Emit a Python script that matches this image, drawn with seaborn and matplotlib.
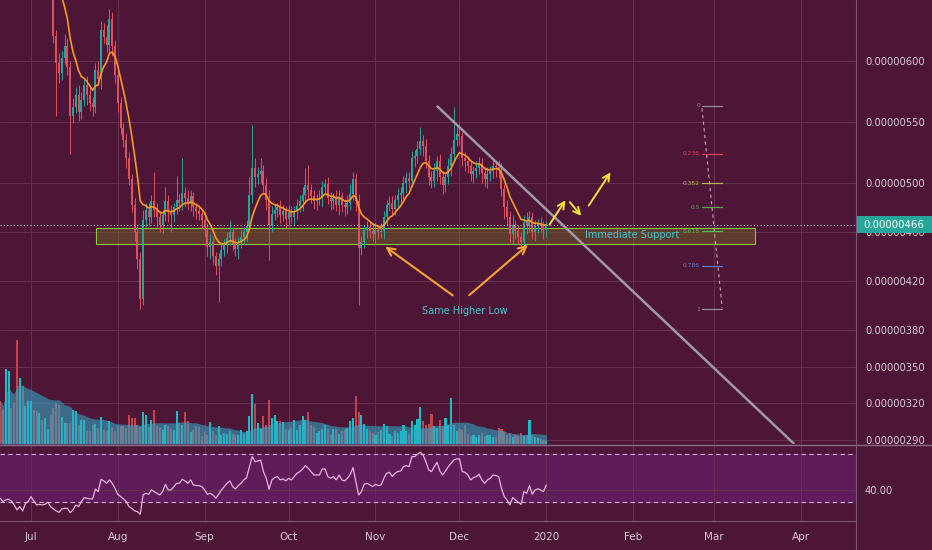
import numpy as np
import pandas as pd
import matplotlib
matplotlib.use('Agg')
import matplotlib.pyplot as plt
import matplotlib.dates as mdates
import matplotlib.transforms as mtransforms
from matplotlib.patches import Rectangle
import seaborn as sns

# ---- data (prices in units of 1e-8) ----
start_date = '2019-06-20'
first_open = 800

closes = [
    790, 778, 784, 789, 776, 760, 735, 745, 722, 732, 740, 752, 738, 722,
    728, 720, 726, 732, 690, 620, 598, 590, 602, 612, 595, 555, 562, 572,
    558, 568, 580, 572, 565, 562, 592, 585, 625, 619, 613, 634, 612, 588,
    565, 545, 535, 520, 503, 482, 460, 438, 405, 470, 478, 472, 485, 478,
    472, 466, 474, 485, 476, 474, 480, 486, 484, 492, 488, 483, 489, 480,
    477, 475, 470, 462, 448, 452, 440, 432, 438, 445, 450, 455, 460, 450,
    446, 452, 456, 460, 465, 490, 512, 505, 507, 510, 498, 486, 466, 475,
    478, 480, 474, 477, 471, 476, 472, 477, 481, 485, 490, 498, 494, 489,
    485, 487, 488, 497, 499, 488, 485, 488, 482, 489, 482, 480, 484, 491,
    503, 485, 447, 452, 462, 464, 461, 458, 462, 460, 461, 472, 482, 484,
    479, 486, 490, 492, 500, 504, 502, 520, 522, 528, 534, 530, 518, 505,
    502, 510, 518, 505, 498, 505, 514, 524, 535, 540, 538, 520, 518, 514,
    507, 510, 512, 516, 508, 503, 507, 510, 514, 513, 511, 495, 480, 472,
    458, 466, 461, 456, 452, 468, 465, 472, 460, 465, 467, 465, 462, 466,
]

wick_up = [
    8, 6, 5, 7, 6, 8, 10, 9, 6, 7, 5, 6, 8, 5,
    6, 7, 5, 8, 12, 25, 5, 8, 6, 10, 6, 5, 7, 6,
    8, 6, 5, 7, 6, 5, 6, 8, 7, 6, 10, 8, 6, 5,
    6, 5, 4, 6, 5, 4, 6, 5, 6, 8, 6, 6, 5, 24,
    6, 5, 4, 12, 5, 6, 4, 20, 5, 28, 5, 6, 5, 4,
    4, 5, 4, 6, 5, 6, 5, 4, 5, 6, 4, 5, 10, 4,
    5, 4, 6, 4, 5, 15, 35, 8, 6, 10, 5, 6, 8, 6,
    5, 4, 6, 5, 4, 6, 5, 4, 6, 5, 7, 14, 17, 5,
    5, 4, 6, 5, 4, 6, 5, 4, 6, 5, 4, 5, 6, 8,
    6, 5, 6, 5, 4, 5, 4, 6, 5, 4, 6, 5, 4, 5,
    5, 4, 6, 5, 6, 5, 5, 6, 5, 6, 12, 5, 6, 5,
    5, 6, 4, 6, 5, 4, 6, 5, 27, 6, 8, 4, 5, 4,
    5, 4, 6, 5, 4, 5, 6, 4, 5, 4, 6, 5, 4, 6,
    5, 8, 4, 5, 4, 6, 8, 5, 4, 5, 4, 5, 4, 3,
]

wick_dn = [
    6, 8, 5, 6, 7, 5, 8, 6, 7, 5, 6, 8, 5, 6,
    5, 6, 7, 5, 8, 6, 43, 8, 6, 5, 7, 31, 6, 5,
    7, 6, 5, 8, 6, 7, 5, 6, 8, 5, 6, 7, 8, 6,
    7, 5, 6, 8, 5, 6, 7, 8, 8, 5, 6, 7, 5, 6,
    8, 6, 7, 5, 8, 14, 6, 5, 7, 6, 8, 5, 6, 7,
    6, 5, 7, 6, 8, 10, 6, 7, 29, 6, 5, 7, 6, 5,
    6, 8, 5, 6, 7, 5, 6, 8, 6, 7, 5, 8, 29, 6,
    5, 6, 7, 5, 8, 6, 5, 7, 6, 5, 8, 6, 7, 5,
    6, 7, 5, 8, 6, 5, 7, 6, 5, 8, 6, 7, 5, 6,
    5, 8, 47, 6, 5, 7, 6, 5, 8, 6, 5, 7, 6, 5,
    6, 5, 7, 6, 5, 8, 6, 5, 7, 6, 5, 8, 6, 7,
    6, 5, 8, 6, 7, 5, 6, 8, 6, 5, 7, 6, 8, 6,
    5, 7, 6, 5, 8, 6, 7, 5, 6, 8, 7, 6, 9, 7,
    6, 8, 7, 6, 8, 6, 7, 5, 6, 7, 6, 5, 8, 6,
]

volume = [
    43, 34, 75, 73, 36, 41, 104, 66, 58, 38, 43, 43, 34, 33,
    31, 24, 26, 15, 29, 36, 41, 39, 27, 21, 21, 21, 34, 33,
    19, 24, 24, 13, 13, 19, 20, 16, 27, 14, 13, 23, 17, 13,
    18, 18, 18, 16, 29, 26, 26, 19, 17, 32, 29, 17, 24, 34,
    18, 17, 14, 19, 18, 15, 14, 33, 21, 19, 32, 23, 12, 14,
    18, 17, 8, 12, 9, 22, 13, 9, 18, 9, 11, 10, 13, 10,
    9, 9, 14, 10, 13, 28, 50, 40, 21, 15, 28, 19, 44, 26,
    29, 23, 23, 22, 15, 14, 17, 24, 14, 19, 28, 24, 32, 19,
    17, 11, 13, 15, 19, 15, 9, 15, 15, 10, 13, 15, 16, 23,
    26, 48, 32, 29, 20, 15, 13, 11, 9, 12, 14, 20, 18, 10,
    8, 13, 11, 13, 19, 13, 10, 23, 19, 25, 37, 23, 19, 20,
    30, 18, 16, 24, 18, 26, 19, 46, 19, 13, 15, 14, 19, 10,
    8, 9, 7, 9, 11, 8, 9, 9, 7, 7, 16, 15, 12, 9,
    11, 7, 9, 8, 11, 8, 9, 24, 9, 7, 6, 5, 4, 3,
]

rsi_vals = [
    33.3, 30.6, 32, 32.5, 31, 27.8, 23.7, 26.4, 22.8, 29, 30.6, 34.7, 31, 27.8,
    28.3, 27.8, 28.3, 30, 26.4, 24.5, 22.8, 21.7, 24.5, 25, 25, 21.4, 23.7, 27.8,
    26.4, 30.6, 33.9, 33.3, 32.8, 32.8, 41, 38.8, 49, 47.7, 45.7, 48.5, 45.7, 41.6,
    36.6, 34.7, 32.8, 30.6, 26.4, 25, 22.8, 22.3, 20, 36, 37.5, 36.6, 40.2, 38.8,
    37.5, 36, 38.8, 44.9, 40.2, 40.2, 43, 45.7, 45.7, 49, 47.7, 45.7, 48.5, 44.4,
    43.8, 43.8, 43, 40.2, 36.6, 37.5, 36, 33.3, 36.6, 40.2, 43, 45.7, 47.7, 43,
    41, 43.8, 45.7, 48.5, 50.4, 59.5, 67.8, 63.7, 64.2, 65, 55.4, 49.9, 40.8, 48.5,
    50.4, 51.3, 48.5, 49.3, 47.7, 49.9, 48.5, 51.3, 54, 55.4, 57.6, 60.4, 58.2, 55.4,
    52.6, 52.6, 52.6, 57.6, 57.6, 51.3, 49.9, 51.3, 48.5, 52.6, 48.5, 47.7, 49.9, 53.2,
    58.7, 47.1, 36, 38.8, 44.9, 45.7, 44.4, 43, 44.9, 43.8, 44.4, 49.9, 54, 54.8,
    51.3, 54, 55.4, 55.9, 59.5, 60.4, 59.5, 67.8, 67.8, 69.7, 71.4, 69.2, 63.7, 56.8,
    55.4, 59.5, 63.1, 55.9, 52.6, 55.9, 59.5, 62.3, 65, 65.9, 65.9, 55.4, 54.8, 52.6,
    48.5, 50.4, 51.3, 53.2, 48.5, 45.7, 48.5, 49.9, 52.6, 52.1, 51.3, 41.6, 34.7, 31.9,
    27.8, 33.9, 31.9, 30, 28.3, 38.8, 37.5, 43.8, 36.6, 40.2, 41.1, 40.2, 38.8, 44.4,
]

price_ticks = [290, 320, 350, 380, 420, 460, 500, 550, 600]
last_price = 466
month_labels = ['Jul', 'Aug', 'Sep', 'Oct', 'Nov', 'Dec', '2020', 'Feb', 'Mar', 'Apr']
fib_levels = [0, 0.236, 0.382, 0.5, 0.618, 0.786, 1]
fib_labels = ['0', '0.236', '0.382', '0.5', '0.618', '0.786', '1']
fib_high, fib_low = 563, 397
support_low, support_high = 450.2, 463.3

# ---- colours ----
bg = '#4d1536'
grid_c = '#63304f'
up_c = '#26a69a'
dn_c = '#e0505c'
vol_up = '#1fbcc4'
vol_dn = '#c4434d'
txt_c = '#d6cad4'
cyan_txt = '#3fcbd2'
fib_colors = ['#9e8aa0', '#e0405a', '#b8b347', '#5fa64a', '#4ec04e', '#5a7fd0', '#9e8aa0']

sns.set_theme(style='dark', rc={'axes.facecolor': bg, 'figure.facecolor': bg,
                                'text.color': txt_c, 'xtick.color': txt_c,
                                'ytick.color': txt_c})
plt.rcParams['font.family'] = ['DejaVu Sans']

closes = np.array(closes, dtype=float)
opens = np.r_[first_open, closes[:-1]]
highs = np.maximum(opens, closes) + np.array(wick_up)
lows = np.minimum(opens, closes) - np.array(wick_dn)
is_up = closes >= opens

dates = pd.date_range(start_date, periods=len(closes), freq='D')
xd = mdates.date2num(dates)
x0 = mdates.date2num(pd.Timestamp(start_date))


def day(d):
    return x0 + d


ma = pd.Series(closes).ewm(span=9, adjust=False).mean().values
vma = pd.Series(volume, dtype=float).rolling(20, min_periods=1).mean().values

fig = plt.figure(figsize=(9.32, 5.5), dpi=100)
W, H = 932.0, 550.0
ax = fig.add_axes([0, 106 / H, 856 / W, 444 / H])
vax = fig.add_axes([0, 106 / H, 856 / W, 444 / H], sharex=ax)
rax = fig.add_axes([0, 29 / H, 856 / W, 75 / H], sharex=ax)

month_starts = pd.date_range('2019-07-01', periods=len(month_labels), freq='MS')

# ---- main price pane ----
ax.set_axisbelow(True)
ax.grid(True, color=grid_c, lw=0.8)
ax.add_patch(Rectangle((day(34.2), support_low), 235.4, support_high - support_low,
                       facecolor='#6e5a28', alpha=0.55, edgecolor='none', zorder=1))
ax.add_patch(Rectangle((day(34.2), support_low), 235.4, support_high - support_low,
                       facecolor='none', edgecolor='#8cc63f', lw=0.8, zorder=1.1))

cols = np.where(is_up, up_c, dn_c)
ax.vlines(xd, lows, highs, colors=cols, lw=0.7, zorder=2)
ax.bar(xd, np.maximum(np.abs(closes - opens), 0.8), bottom=np.minimum(opens, closes),
       width=0.7, color=cols, zorder=2.1, linewidth=0)
sns.lineplot(x=dates, y=ma, ax=ax, color='#f59a23', linewidth=1.2, zorder=3)

ax.axhline(last_price, color='#a8c0c6', ls=(0, (1, 2)), lw=0.8, zorder=3)

# trend line
ax.plot([day(155.9), day(283.5)], [563, 287], color='#9e9aa6', lw=1.8,
        solid_capstyle='butt', zorder=4)

# fib retracement
for lvl, lab, c in zip(fib_levels, fib_labels, fib_colors):
    p = fib_high - lvl * (fib_high - fib_low)
    ax.plot([day(250.6), day(257.8)], [p, p], color=c, lw=0.9, zorder=4)
    ax.text(day(249.9), p, lab, color=c, fontsize=4.3, ha='right', va='center', zorder=4)
ax.plot([day(250.6), day(257.8)], [561, 398], color='#c9a0bd', lw=0.8,
        ls=(0, (3, 3)), zorder=4)

# annotations
orange = '#f7a233'
for tail, head in [((162.4, 406.9), (136.7, 449.4)), ((166.7, 406.9), (189.2, 451.0))]:
    ax.annotate('', xy=(day(head[0]), head[1]), xytext=(day(tail[0]), tail[1]),
                arrowprops=dict(arrowstyle='->', color=orange, lw=1.5,
                                mutation_scale=14), zorder=5)
yellow = '#f4e23a'
for tail, head in [((195.6, 464.1), (202.4, 487.8)), ((202.8, 486.1), (208.1, 471.4)),
                   ((209.6, 479.6), (218.5, 510.6))]:
    ax.annotate('', xy=(day(head[0]), head[1]), xytext=(day(tail[0]), tail[1]),
                arrowprops=dict(arrowstyle='->', color=yellow, lw=1.4,
                                mutation_scale=12), zorder=5)
ax.text(day(166.0), 395.7, 'Same Higher Low', color=cyan_txt, fontsize=7,
        ha='center', va='center', zorder=5)
ax.text(day(225.6), 457.6, 'Immediate Support', color=cyan_txt, fontsize=7,
        ha='center', va='center', zorder=5)

ax.set_ylim(286.9, 649.4)
ax.set_yticks(price_ticks)
ax.set_yticklabels([f'{v * 1e-8:.8f}' for v in price_ticks])
ax.yaxis.tick_right()
ax.tick_params(axis='y', length=0, pad=6.5, labelsize=7.2, colors=txt_c)
ax.set_xticks(month_starts)
ax.tick_params(axis='x', length=0, labelbottom=False)
ax.set_xlabel('')
ax.set_ylabel('')
for s in ax.spines.values():
    s.set_visible(False)

# ---- volume overlay ----
vax.patch.set_alpha(0)
vax.bar(xd, volume, width=0.75, color=np.where(is_up, vol_up, vol_dn), linewidth=0, zorder=1)
vax.fill_between(xd, 0, vma, color='#31a9c5', alpha=0.58, linewidth=0, zorder=2)
vax.set_ylim(0, 444)
vax.axis('off')

# ---- RSI pane ----
rax.set_facecolor('#4e1539')
rax.set_axisbelow(True)
rax.axhspan(30, 70, color='#5f1b5a', zorder=0)
rax.grid(True, color=grid_c, lw=0.8)
rax.axhline(70, color='#d9a9cf', lw=0.8, ls=(0, (4, 3)), zorder=1)
rax.axhline(30, color='#d9a9cf', lw=0.8, ls=(0, (4, 3)), zorder=1)
sns.lineplot(x=dates, y=rsi_vals, ax=rax, color='#e8b4dc', linewidth=0.9, zorder=3)
rax.set_ylim(14.5, 76.6)
rax.set_yticks([40])
rax.set_yticklabels(['40.00'])
rax.yaxis.tick_right()
rax.tick_params(axis='y', length=0, pad=6.5, labelsize=7.2, colors=txt_c)
rax.set_xticks(month_starts)
rax.set_xticklabels(month_labels)
rax.tick_params(axis='x', length=0, pad=8, labelsize=7.5, colors=txt_c)
rax.set_xlabel('')
rax.set_ylabel('')
for s in rax.spines.values():
    s.set_visible(False)

ax.set_xlim(day(-0.07), day(305.6))

# ---- separators and last price tag ----
sep_c = '#7a5a74'
fig.add_artist(plt.Line2D([0, 1], [105 / H, 105 / H], color='#8a6a84', lw=1.0))
fig.add_artist(plt.Line2D([0, 856 / W], [29 / H, 29 / H], color=sep_c, lw=0.8))
fig.add_artist(plt.Line2D([856 / W, 856 / W], [0, 1], color=sep_c, lw=0.8))

blend = mtransforms.blended_transform_factory(fig.transFigure, ax.transData)
tag = Rectangle((857 / W, last_price - 7), 75 / W, 14, transform=blend,
                facecolor='#26a69a', edgecolor='none', zorder=10)
fig.add_artist(tag)
fig.text(894 / W, last_price, f'{last_price * 1e-8:.8f}', transform=blend,
         color='white', fontsize=7.3, ha='center', va='center', zorder=11)

fig.savefig('out.png', dpi=100, facecolor=bg)
